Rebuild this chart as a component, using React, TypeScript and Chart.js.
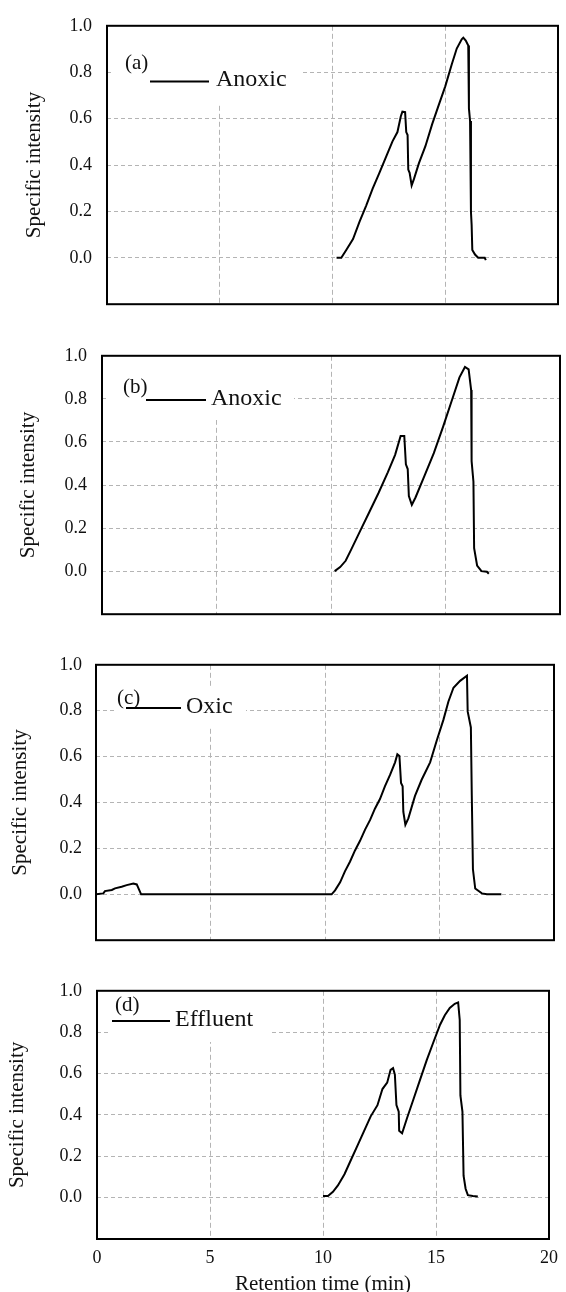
import React, { useEffect, useRef } from 'react';
import { Chart, registerables } from 'chart.js';

Chart.register(...registerables);

// ---------- data ----------
const X_MIN = 0;
const X_MAX = 20;
const X_STEP = 5;
const Y_MIN = -0.2;
const Y_MAX = 1.0;
const Y_STEP = 0.2;

const yAxisTitle = 'Specific intensity';
const xAxisTitle = 'Retention time (min)';
const panelTags = ['(a)', '(b)', '(c)', '(d)'];
const seriesNames = ['Anoxic', 'Anoxic', 'Oxic', 'Effluent'];

const aTime = [10.18, 10.39, 10.61, 10.91, 11.2, 11.49, 11.78, 12.08, 12.37, 12.66, 12.88, 13.03, 13.1, 13.22, 13.27, 13.33, 13.36, 13.42, 13.51, 13.61, 13.83, 14.12, 14.42, 14.71, 15.0, 15.29, 15.51, 15.73, 15.8, 15.91, 16.02, 16.05, 16.1, 16.14, 16.17, 16.2, 16.32, 16.46, 16.75, 16.8];
const aIntensity = [0, 0, 0.034, 0.081, 0.156, 0.224, 0.298, 0.366, 0.434, 0.502, 0.542, 0.61, 0.63, 0.628, 0.542, 0.529, 0.38, 0.366, 0.312, 0.339, 0.407, 0.481, 0.576, 0.658, 0.739, 0.834, 0.902, 0.942, 0.949, 0.936, 0.915, 0.644, 0.59, 0.197, 0.142, 0.034, 0.014, 0, 0, -0.01];

const bTime = [10.16, 10.4, 10.64, 10.88, 11.28, 11.68, 12.08, 12.48, 12.8, 13.04, 13.2, 13.27, 13.35, 13.4, 13.53, 13.69, 14.09, 14.49, 14.9, 15.29, 15.61, 15.85, 16.01, 16.12, 16.14, 16.22, 16.25, 16.38, 16.57, 16.81, 16.89];
const bIntensity = [0, 0.019, 0.048, 0.1, 0.188, 0.276, 0.364, 0.459, 0.54, 0.628, 0.628, 0.496, 0.474, 0.349, 0.308, 0.342, 0.445, 0.548, 0.672, 0.797, 0.9, 0.948, 0.937, 0.841, 0.511, 0.415, 0.107, 0.026, 0, -0.003, -0.012];

const cTime = [0, 0.32, 0.39, 0.69, 0.83, 1.12, 1.34, 1.63, 1.78, 1.97, 10.29, 10.44, 10.66, 10.87, 11.09, 11.31, 11.53, 11.75, 11.97, 12.18, 12.4, 12.62, 12.84, 13.06, 13.16, 13.25, 13.32, 13.39, 13.42, 13.51, 13.64, 13.93, 14.22, 14.59, 14.88, 15.17, 15.39, 15.61, 15.9, 16.2, 16.23, 16.37, 16.41, 16.46, 16.56, 16.85, 17.07, 17.7];
const cIntensity = [0, 0.004, 0.014, 0.019, 0.026, 0.033, 0.04, 0.047, 0.043, 0, 0, 0.017, 0.052, 0.1, 0.142, 0.191, 0.233, 0.282, 0.324, 0.373, 0.415, 0.471, 0.52, 0.575, 0.61, 0.603, 0.485, 0.471, 0.36, 0.303, 0.331, 0.429, 0.499, 0.575, 0.67, 0.76, 0.84, 0.9, 0.93, 0.952, 0.797, 0.727, 0.432, 0.109, 0.025, 0.004, 0, 0];

const dTime = [10.0, 10.22, 10.44, 10.66, 10.95, 11.24, 11.53, 11.82, 12.11, 12.41, 12.63, 12.84, 12.99, 13.1, 13.18, 13.25, 13.35, 13.37, 13.5, 13.72, 14.01, 14.3, 14.59, 14.88, 15.18, 15.39, 15.61, 15.83, 15.98, 16.05, 16.08, 16.17, 16.22, 16.31, 16.41, 16.63, 16.85];
const dIntensity = [0.008, 0.008, 0.028, 0.059, 0.113, 0.183, 0.253, 0.323, 0.393, 0.447, 0.525, 0.556, 0.618, 0.626, 0.595, 0.447, 0.416, 0.323, 0.311, 0.385, 0.478, 0.572, 0.665, 0.75, 0.836, 0.882, 0.917, 0.937, 0.944, 0.859, 0.494, 0.416, 0.106, 0.043, 0.012, 0.008, 0.005];

const panelTimes = [aTime, bTime, cTime, dTime];
const panelIntensities = [aIntensity, bIntensity, cIntensity, dIntensity];

// ---------- layout / style ----------
const PAGE_W = 566;
const PAGE_H = 1292;
const SERIF = "'Liberation Serif', 'Times New Roman', Times, serif";
const TEXT = '#111111';
const GRID = '#b4b4b4';

interface Layout {
  canvasTop: number;
  canvasH: number;
  left: number;
  right: number;
  top: number;
  bottom: number;
  tickPad: number;
  yTitlePad: number;
  showX: boolean;
  box: [number, number, number, number];
  tagX: number;
  tagY: number;
  lineX0: number;
  lineX1: number;
  lineY: number;
  nameX: number;
  nameY: number;
}

const layouts: Layout[] = [
  { canvasTop: 0, canvasH: 330, left: 107, right: 558, top: 20, bottom: 315, tickPad: 15, yTitlePad: 23.5, showX: false,
    box: [113, 21, 300, 105], tagX: 125, tagY: 63, lineX0: 150, lineX1: 209, lineY: 81.5, nameX: 216, nameY: 80 },
  { canvasTop: 330, canvasH: 310, left: 102, right: 560, top: 343, bottom: 615, tickPad: 15, yTitlePad: 17.5, showX: false,
    box: [108, 344, 294, 420], tagX: 123, tagY: 387, lineX0: 146, lineX1: 206, lineY: 400, nameX: 211, nameY: 399 },
  { canvasTop: 640, canvasH: 325, left: 96, right: 554, top: 657, bottom: 944, tickPad: 14, yTitlePad: 9.5, showX: false,
    box: [117, 688, 246, 726], tagX: 117, tagY: 698, lineX0: 126, lineX1: 181, lineY: 708, nameX: 186, nameY: 707 },
  { canvasTop: 965, canvasH: 335, left: 97, right: 556, top: 978, bottom: 1239, tickPad: 15, yTitlePad: 6.5, showX: true,
    box: [108, 979, 269, 1042], tagX: 115, tagY: 1005, lineX0: 112, lineX1: 170, lineY: 1021, nameX: 175, nameY: 1020 },
];

function edgeAware(min: number, max: number) {
  return (ctx: any) => {
    const v = ctx.tick ? ctx.tick.value : NaN;
    if (Math.abs(v - min) < 1e-6 || Math.abs(v - max) < 1e-6) return 'rgba(0,0,0,0)';
    return GRID;
  };
}

function formatY(v: any) {
  const n = Math.round(Number(v) * 10) / 10;
  if (n < -0.05) return '';
  return Math.abs(n).toFixed(1);
}

function Panel({ index }: { index: number }) {
  const ref = useRef<HTMLCanvasElement | null>(null);
  const L = layouts[index];

  useEffect(() => {
    const canvas = ref.current;
    if (!canvas) return;
    const off = L.canvasTop;
    const canvasBottom = L.canvasTop + L.canvasH;

    const decor = {
      id: 'panelDecor' + index,
      beforeDatasetsDraw(chart: any) {
        const ctx = chart.ctx as CanvasRenderingContext2D;
        ctx.save();
        ctx.fillStyle = '#ffffff';
        ctx.fillRect(L.box[0], L.box[1] - off, L.box[2] - L.box[0], L.box[3] - L.box[1]);
        ctx.fillStyle = TEXT;
        ctx.textBaseline = 'middle';
        ctx.textAlign = 'left';
        ctx.font = `21px ${SERIF}`;
        ctx.fillText(panelTags[index], L.tagX, L.tagY - off);
        ctx.strokeStyle = '#000000';
        ctx.lineWidth = 2;
        ctx.beginPath();
        ctx.moveTo(L.lineX0, L.lineY - off);
        ctx.lineTo(L.lineX1, L.lineY - off);
        ctx.stroke();
        ctx.font = `24px ${SERIF}`;
        ctx.fillText(seriesNames[index], L.nameX, L.nameY - off);
        ctx.restore();
      },
      afterDraw(chart: any) {
        const ctx = chart.ctx as CanvasRenderingContext2D;
        const a = chart.chartArea;
        ctx.save();
        ctx.strokeStyle = '#000000';
        ctx.lineWidth = 2;
        ctx.strokeRect(a.left, a.top, a.right - a.left, a.bottom - a.top);
        ctx.restore();
      },
    };

    const times = panelTimes[index];
    const vals = panelIntensities[index];
    const points = times.map((t, i) => ({ x: t, y: vals[i] }));

    const chart = new Chart(canvas, {
      type: 'line',
      data: {
        datasets: [
          {
            label: seriesNames[index],
            data: points,
            borderColor: '#000000',
            borderWidth: 2,
            pointRadius: 0,
            tension: 0,
            fill: false,
          },
        ],
      },
      options: {
        animation: false,
        responsive: false,
        events: [],
        layout: { padding: { left: 0, right: PAGE_W - L.right, top: L.top - L.canvasTop, bottom: 0 } },
        plugins: { legend: { display: false }, tooltip: { enabled: false } },
        scales: {
          x: {
            type: 'linear',
            min: X_MIN,
            max: X_MAX,
            ticks: {
              display: L.showX,
              stepSize: X_STEP,
              autoSkip: false,
              maxRotation: 0,
              padding: 8,
              color: TEXT,
              font: { family: SERIF, size: 18 },
            },
            grid: { color: edgeAware(X_MIN, X_MAX), lineWidth: 1, drawTicks: false },
            border: { display: false, dash: [5, 3] },
            title: {
              display: L.showX,
              text: xAxisTitle,
              color: TEXT,
              font: { family: SERIF, size: 21, lineHeight: 1 },
              padding: { top: 0, bottom: 5 },
            },
            afterFit: (s: any) => {
              s.height = canvasBottom - L.bottom;
            },
          },
          y: {
            type: 'linear',
            min: Y_MIN,
            max: Y_MAX,
            ticks: {
              stepSize: Y_STEP,
              padding: L.tickPad,
              color: TEXT,
              font: { family: SERIF, size: 18 },
              callback: formatY,
            },
            grid: { color: edgeAware(Y_MIN, Y_MAX), lineWidth: 1, drawTicks: false },
            border: { display: false, dash: [4, 3] },
            title: {
              display: true,
              text: yAxisTitle,
              color: TEXT,
              font: { family: SERIF, size: 21, lineHeight: 1 },
              padding: { top: L.yTitlePad, bottom: 0 },
            },
            afterFit: (s: any) => {
              s.width = L.left;
            },
          },
        },
      },
      plugins: [decor],
    } as any);

    return () => chart.destroy();
  }, [index]);

  return (
    <canvas
      ref={ref}
      width={PAGE_W}
      height={L.canvasH}
      style={{ position: 'absolute', left: 0, top: L.canvasTop, width: PAGE_W, height: L.canvasH, display: 'block' }}
    />
  );
}

export default function App() {
  return (
    <div
      style={{
        position: 'absolute',
        left: 0,
        top: 0,
        width: PAGE_W,
        height: PAGE_H,
        overflow: 'hidden',
        background: '#ffffff',
      }}
    >
      {layouts.map((_, i) => (
        <Panel key={i} index={i} />
      ))}
    </div>
  );
}
